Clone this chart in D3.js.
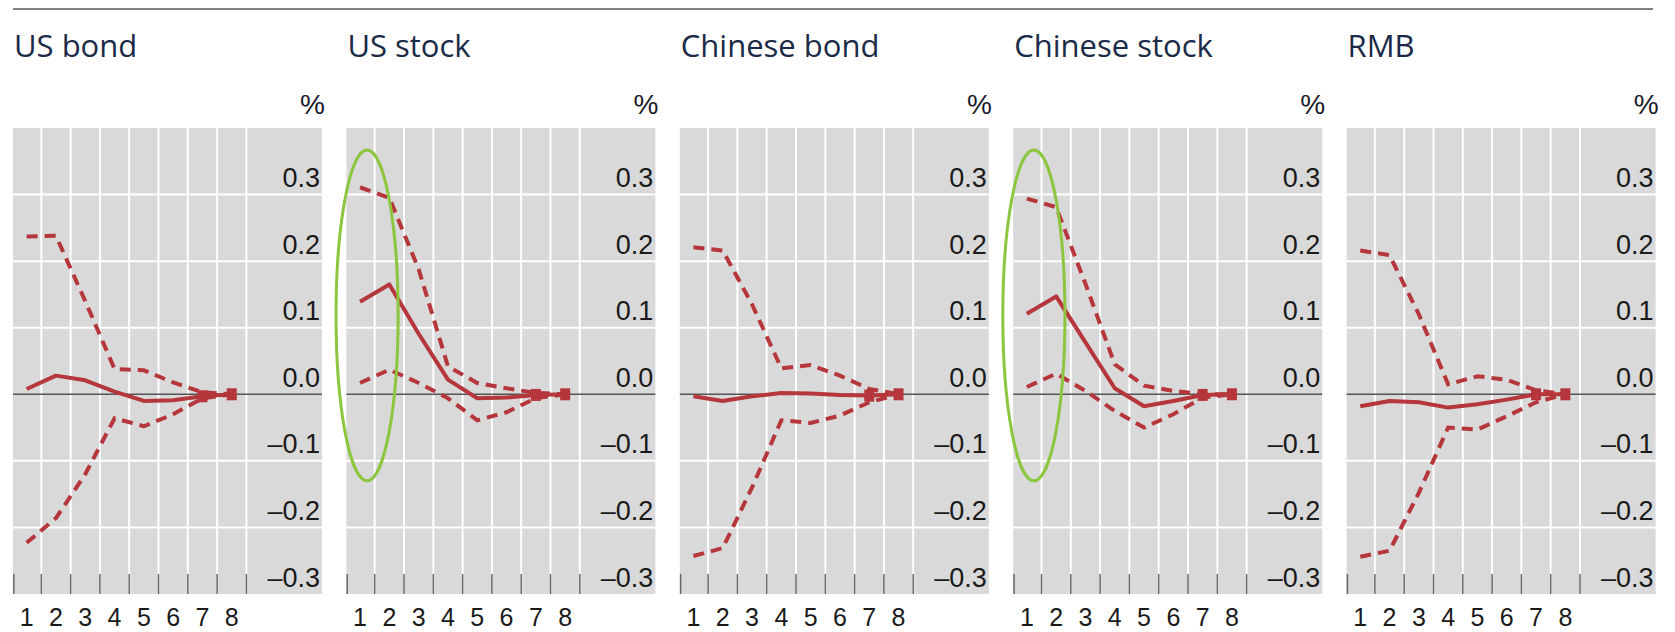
<!DOCTYPE html>
<html>
<head>
<meta charset="utf-8">
<script src="https://cdn.jsdelivr.net/npm/d3@7"></script>
<style>
  body { margin: 0; background: #fff; }
  svg { display: block; }
</style>
</head>
<body>
<svg id="chart"></svg>
<script>
var periods = [1, 2, 3, 4, 5, 6, 7, 8];
var panelTitles = ["US bond", "US stock", "Chinese bond", "Chinese stock", "RMB"];
var yTicks = [0.3, 0.2, 0.1, 0.0, -0.1, -0.2, -0.3];

// point estimate (solid) and bands (dashed), in %
var usBondMid   = [0.008, 0.028, 0.021, 0.004, -0.010, -0.009, -0.003, 0];
var usBondUpper = [0.237, 0.238, 0.140, 0.038, 0.036, 0.018, 0.003, 0];
var usBondLower = [-0.223, -0.186, -0.120, -0.036, -0.048, -0.030, -0.006, 0];

var usStockMid   = [0.139, 0.165, 0.091, 0.022, -0.006, -0.005, -0.001, 0];
var usStockUpper = [0.311, 0.295, 0.188, 0.042, 0.017, 0.009, 0.002, 0];
var usStockLower = [0.017, 0.037, 0.017, -0.006, -0.039, -0.027, -0.006, 0];

var cnBondMid   = [-0.003, -0.010, -0.003, 0.002, 0.001, -0.001, -0.002, 0];
var cnBondUpper = [0.221, 0.216, 0.135, 0.039, 0.044, 0.028, 0.008, 0];
var cnBondLower = [-0.243, -0.231, -0.140, -0.039, -0.043, -0.032, -0.012, 0];

var cnStockMid   = [0.121, 0.147, 0.078, 0.009, -0.018, -0.010, -0.001, 0];
var cnStockUpper = [0.294, 0.281, 0.166, 0.045, 0.013, 0.005, 0.000, 0];
var cnStockLower = [0.011, 0.031, 0.005, -0.025, -0.050, -0.030, -0.005, 0];

var rmbMid   = [-0.018, -0.010, -0.012, -0.020, -0.015, -0.008, 0.000, 0];
var rmbUpper = [0.216, 0.209, 0.120, 0.015, 0.027, 0.022, 0.006, 0];
var rmbLower = [-0.244, -0.235, -0.148, -0.050, -0.053, -0.033, -0.012, 0];

// circled first periods
var highlighted = ["US stock", "Chinese stock"];
var highlightRange = [-0.13, 0.367];

var panelData = [
  {mid: usBondMid, upper: usBondUpper, lower: usBondLower},
  {mid: usStockMid, upper: usStockUpper, lower: usStockLower},
  {mid: cnBondMid, upper: cnBondUpper, lower: cnBondLower},
  {mid: cnStockMid, upper: cnStockUpper, lower: cnStockLower},
  {mid: rmbMid, upper: rmbUpper, lower: rmbLower}
];

var width = 1675, height = 632;
var red = "#b5363b";
var panelStep = 333.4, panelWidth = 309;

var svg = d3.select("#chart").attr("width", width).attr("height", height);

svg.append("line")
    .attr("x1", 13).attr("x2", 1653)
    .attr("y1", 9).attr("y2", 9)
    .attr("stroke", "#808080")
    .attr("stroke-width", 2);

var y = d3.scaleLinear().domain([-0.3, 0.4]).range([594, 128]);
var x = d3.scaleBand().domain(periods).range([-1, 233.4]);
var bw = x.bandwidth();

var fmt = function(d) {
  var s = d3.format(".1f")(Math.abs(d));
  return d < 0 ? "\u2013" + s : s;
};

var line = d3.line()
    .x(function(d) { return x(d.p) + bw / 2; })
    .y(function(d) { return y(d.v); });

panelTitles.forEach(function(title, i) {
  var g = svg.append("g").attr("transform", "translate(" + (13 + i * panelStep) + ",0)");
  var s = panelData[i];

  g.append("text")
      .attr("x", 1).attr("y", 57)
      .attr("font-family", "'Open Sans', sans-serif")
      .attr("font-size", 31)
      .attr("fill", "#1b2a47")
      .text(title);

  g.append("text")
      .attr("x", 312).attr("y", 114)
      .attr("text-anchor", "end")
      .attr("font-family", "'Liberation Sans', Arial, sans-serif")
      .attr("font-size", 28)
      .attr("fill", "#1a1a2a")
      .text("%");

  g.append("rect")
      .attr("x", 0).attr("y", y(0.4))
      .attr("width", panelWidth).attr("height", y(-0.3) - y(0.4))
      .attr("fill", "#d9d9d9");

  // horizontal grid
  g.selectAll(".hgrid")
      .data(yTicks.filter(function(t) { return t !== 0 && t !== -0.3; }))
      .enter().append("line")
      .attr("x1", 0).attr("x2", panelWidth)
      .attr("y1", function(d) { return y(d); })
      .attr("y2", function(d) { return y(d); })
      .attr("stroke", "#fff").attr("stroke-width", 2);

  // vertical grid at period boundaries
  var bounds = d3.range(periods.length + 1).map(function(k) { return x.range()[0] + k * x.step(); });
  g.selectAll(".vgrid")
      .data(bounds.slice(1))
      .enter().append("line")
      .attr("x1", function(d) { return d; }).attr("x2", function(d) { return d; })
      .attr("y1", y(0.4)).attr("y2", y(-0.3))
      .attr("stroke", "#fff").attr("stroke-width", 2);

  g.selectAll(".tick-mark")
      .data(bounds)
      .enter().append("line")
      .attr("x1", function(d) { return Math.max(d, 0.8); }).attr("x2", function(d) { return Math.max(d, 0.8); })
      .attr("y1", y(-0.3) - 20).attr("y2", y(-0.3))
      .attr("stroke", "#666").attr("stroke-width", 1.5);

  g.append("line")
      .attr("x1", 0).attr("x2", panelWidth)
      .attr("y1", y(0)).attr("y2", y(0))
      .attr("stroke", "#555").attr("stroke-width", 1.5);

  // y labels sit above their grid line
  var yAxis = g.append("g")
      .attr("transform", "translate(307,0)")
      .call(d3.axisLeft(y).tickValues(yTicks).tickSize(0).tickPadding(0).tickFormat(fmt));
  yAxis.select(".domain").remove();
  yAxis.selectAll("text")
      .attr("dy", -8)
      .attr("font-family", "'Liberation Sans', Arial, sans-serif")
      .attr("font-size", 27)
      .attr("fill", "#1a1a1a");

  var xAxis = g.append("g")
      .attr("transform", "translate(0," + y(-0.3) + ")")
      .call(d3.axisBottom(x).tickSize(0).tickPadding(0));
  xAxis.select(".domain").remove();
  xAxis.selectAll("text")
      .attr("dy", null)
      .attr("y", 32)
      .attr("font-family", "'Liberation Sans', Arial, sans-serif")
      .attr("font-size", 25)
      .attr("fill", "#1a1a1a");

  ["upper", "lower"].forEach(function(key) {
    g.append("path")
        .datum(periods.map(function(p, j) { return {p: p, v: s[key][j]}; }))
        .attr("fill", "none")
        .attr("stroke", red)
        .attr("stroke-width", 4)
        .attr("stroke-dasharray", "11,7")
        .attr("d", line);
  });

  var mid = periods.map(function(p, j) { return {p: p, v: s.mid[j]}; });
  g.append("path")
      .datum(mid)
      .attr("fill", "none")
      .attr("stroke", red)
      .attr("stroke-width", 4)
      .attr("stroke-linejoin", "round")
      .attr("d", line);

  g.selectAll(".marker")
      .data(mid.slice(6))
      .enter().append("rect")
      .attr("x", function(d) { return x(d.p) + bw / 2 - 5; })
      .attr("y", function(d) { return y(d.v) - 6; })
      .attr("width", 10).attr("height", 12)
      .attr("fill", red);

  if (highlighted.indexOf(title) >= 0) {
    var top = y(highlightRange[1]), bottom = y(highlightRange[0]);
    g.append("ellipse")
        .attr("cx", x(1) + bw / 2 + x.step() * 0.24)
        .attr("cy", (top + bottom) / 2)
        .attr("rx", x.step() * 1.06)
        .attr("ry", (bottom - top) / 2)
        .attr("fill", "none")
        .attr("stroke", "#8cc63f")
        .attr("stroke-width", 3);
  }
});
</script>
</body>
</html>
